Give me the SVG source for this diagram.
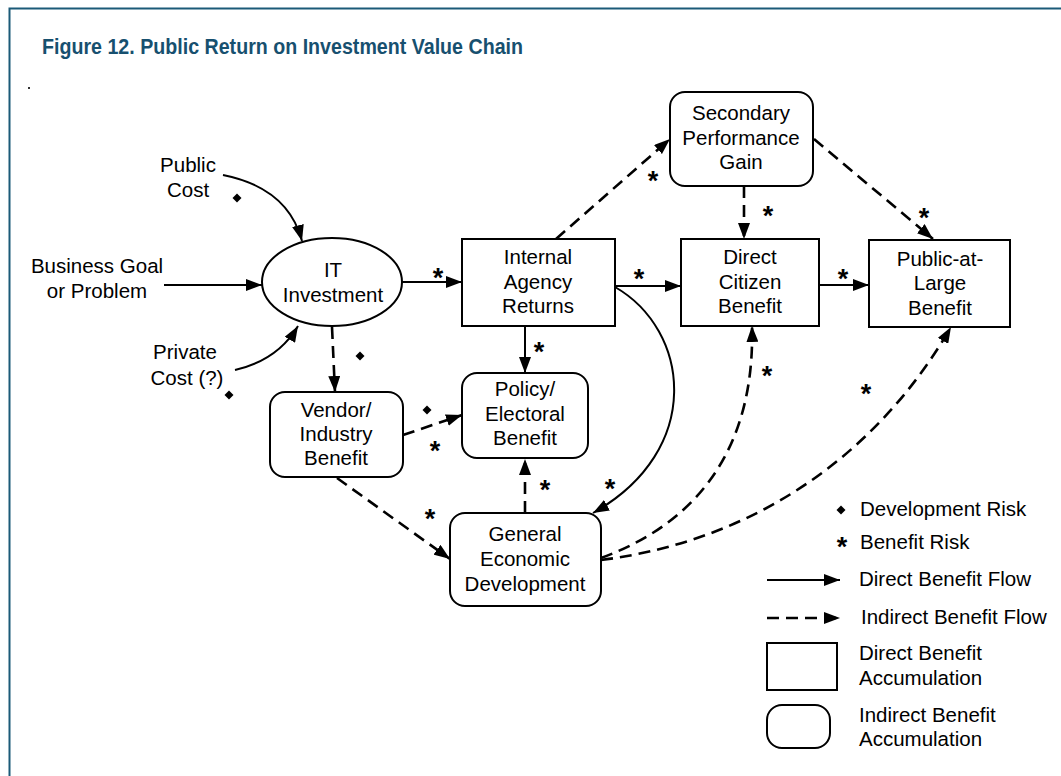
<svg xmlns="http://www.w3.org/2000/svg" width="1061" height="776" viewBox="0 0 1061 776">
<style>
text{font-family:"Liberation Sans",Arial,sans-serif;font-size:20.5px;fill:#000}
.c{text-anchor:middle}
.title{font-weight:bold;font-size:22.5px;fill:#17506f}
.star{font-weight:bold;font-size:27px;text-anchor:middle}
.box{fill:#fff;stroke:#000;stroke-width:2}
.sol{fill:none;stroke:#000;stroke-width:2}
.dsh{fill:none;stroke:#000;stroke-width:2.6;stroke-dasharray:12 7}
</style>
<defs>
<marker id="ah" markerUnits="userSpaceOnUse" markerWidth="17" markerHeight="12" refX="16" refY="6" orient="auto">
<path d="M0,0 L16,6 L0,12 z" fill="#000"/>
</marker>
<path id="dia" d="M0,-4.5 L4.5,0 L0,4.5 L-4.5,0 z" fill="#000"/>
</defs>
<rect width="1061" height="776" fill="#fff"/>
<path d="M9.5,776 V8.5 H1061" fill="none" stroke="#1b5a78" stroke-width="2"/>
<text class="title" x="42" y="54" textLength="481" lengthAdjust="spacingAndGlyphs">Figure 12. Public Return on Investment Value Chain</text>
<rect x="28" y="87" width="2" height="2" fill="#333"/>

<g id="connectors">
<path class="sol" d="M223,175 Q288,188 302,241" marker-end="url(#ah)"/>
<path class="sol" d="M164,285 L262,285" marker-end="url(#ah)"/>
<path class="sol" d="M235,370 Q278,360 298,326" marker-end="url(#ah)"/>
<path class="sol" d="M402,282 L462,282" marker-end="url(#ah)"/>
<path class="dsh" d="M332,327 L335,392" marker-end="url(#ah)"/>
<path class="dsh" d="M403,435 L462,415" marker-end="url(#ah)"/>
<path class="sol" d="M525,326 L525,373" marker-end="url(#ah)"/>
<path class="dsh" d="M525,513 L525,459" marker-end="url(#ah)"/>
<path class="dsh" d="M337,478 L450,559" marker-end="url(#ah)"/>
<path class="sol" d="M615,287 C690,330 705,450 593,513" marker-end="url(#ah)"/>
<path class="dsh" d="M556,239 L670,139" marker-end="url(#ah)"/>
<path class="dsh" d="M744,186 L744,239" marker-end="url(#ah)"/>
<path class="dsh" d="M814,139 L933,239" marker-end="url(#ah)"/>
<path class="sol" d="M615,286 L681,286" marker-end="url(#ah)"/>
<path class="sol" d="M819,285 L869,285" marker-end="url(#ah)"/>
<path class="dsh" d="M601,558 C705,520 755,440 752,326" marker-end="url(#ah)"/>
<path class="dsh" d="M601,560 C760,540 880,450 951,327" marker-end="url(#ah)"/>
</g>

<g id="risks">
<use href="#dia" x="237" y="198"/>
<use href="#dia" x="229" y="395"/>
<use href="#dia" x="360" y="356"/>
<use href="#dia" x="427" y="410"/>
<text class="star" x="438" y="287">*</text>
<text class="star" x="653" y="190">*</text>
<text class="star" x="768" y="225">*</text>
<text class="star" x="924" y="227">*</text>
<text class="star" x="639" y="288">*</text>
<text class="star" x="843" y="288">*</text>
<text class="star" x="539" y="361">*</text>
<text class="star" x="435" y="460">*</text>
<text class="star" x="545" y="499">*</text>
<text class="star" x="610" y="498">*</text>
<text class="star" x="430" y="528">*</text>
<text class="star" x="767" y="385">*</text>
<text class="star" x="866" y="403">*</text>
</g>

<g id="public-cost"><text class="c" x="188" y="172">Public</text><text class="c" x="188" y="197">Cost</text></g>
<g id="business-goal"><text class="c" x="97" y="273">Business Goal</text><text class="c" x="97" y="298">or Problem</text></g>
<g id="private-cost"><text class="c" x="185" y="359">Private</text><text class="c" x="187" y="385">Cost (?)</text></g>

<g id="it-investment">
<ellipse class="box" cx="332" cy="282" rx="70" ry="44"/>
<text class="c" x="333" y="277">IT</text><text class="c" x="333" y="302">Investment</text>
</g>
<g id="internal-agency">
<rect class="box" x="462" y="239" width="153" height="87"/>
<text class="c" x="538" y="264">Internal</text><text class="c" x="538" y="289">Agency</text><text class="c" x="538" y="313">Returns</text>
</g>
<g id="secondary">
<rect class="box" x="670" y="92" width="143" height="94" rx="15"/>
<text class="c" x="741" y="120">Secondary</text><text class="c" x="741" y="145">Performance</text><text class="c" x="741" y="169">Gain</text>
</g>
<g id="direct-citizen">
<rect class="box" x="681" y="239" width="138" height="87"/>
<text class="c" x="750" y="264">Direct</text><text class="c" x="750" y="289">Citizen</text><text class="c" x="750" y="313">Benefit</text>
</g>
<g id="public-at-large">
<rect class="box" x="869" y="240" width="141" height="87"/>
<text class="c" x="940" y="266">Public-at-</text><text class="c" x="940" y="290">Large</text><text class="c" x="940" y="315">Benefit</text>
</g>
<g id="policy">
<rect class="box" x="462" y="373" width="126" height="85" rx="15"/>
<text class="c" x="525" y="396">Policy/</text><text class="c" x="525" y="421">Electoral</text><text class="c" x="525" y="445">Benefit</text>
</g>
<g id="vendor">
<rect class="box" x="270" y="392" width="133" height="85" rx="15"/>
<text class="c" x="336" y="417">Vendor/</text><text class="c" x="336" y="441">Industry</text><text class="c" x="336" y="465">Benefit</text>
</g>
<g id="general-economic">
<rect class="box" x="450" y="513" width="151" height="93" rx="15"/>
<text class="c" x="525" y="541">General</text><text class="c" x="525" y="566">Economic</text><text class="c" x="525" y="591">Development</text>
</g>

<g id="legend">
<use href="#dia" x="841" y="510"/>
<text x="860" y="516">Development Risk</text>
<text class="star" x="842" y="556">*</text>
<text x="860" y="549">Benefit Risk</text>
<path class="sol" d="M767,580 L840,580" marker-end="url(#ah)"/>
<text x="859" y="586">Direct Benefit Flow</text>
<path class="dsh" d="M767,618 L840,618" marker-end="url(#ah)"/>
<text x="861" y="624">Indirect Benefit Flow</text>
<rect class="box" x="767" y="643" width="70" height="47"/>
<text x="859" y="660">Direct Benefit</text>
<text x="859" y="685">Accumulation</text>
<rect class="box" x="767" y="705" width="63" height="43" rx="15"/>
<text x="859" y="722">Indirect Benefit</text>
<text x="859" y="746">Accumulation</text>
</g>
</svg>
